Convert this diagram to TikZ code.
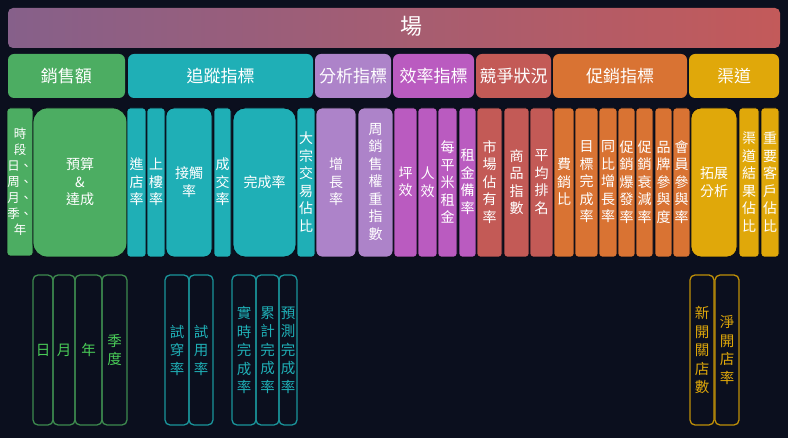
\documentclass[tikz,border=0pt]{standalone}
\usepackage{fontspec}
\newfontfamily\cjk{Noto Sans CJK TC}
\definecolor{bgnavy}{HTML}{0B0F1E}
\definecolor{salesgreen}{HTML}{4CAD62}
\definecolor{trackteal}{HTML}{1FAFB6}
\definecolor{analyslilac}{HTML}{AD83C9}
\definecolor{efficmagenta}{HTML}{BA5BC0}
\definecolor{competred}{HTML}{C35A56}
\definecolor{promoorange}{HTML}{D97333}
\definecolor{chanyellow}{HTML}{E0A80A}
\definecolor{fieldleft}{HTML}{86608A}
\definecolor{fieldright}{HTML}{C35A5A}
\tikzset{
  cattext/.style={text=white,font=\cjk\fontsize{17}{19}\selectfont,inner sep=0pt},
  kpitext/.style={text=white,font=\cjk\fontsize{14}{17.5}\selectfont,align=center,inner sep=0pt},
  subtext/.style={font=\cjk\fontsize{14.5}{18.5}\selectfont,align=center,inner sep=0pt},
  subsales/.style={draw=salesgreen!80!black,text=salesgreen!70!green!90!white},
  subtrack/.style={draw=trackteal!85!black,text=trackteal},
  subchan/.style={draw=chanyellow!85!black,text=chanyellow},
}
\begin{document}
\begin{tikzpicture}[x=1pt,y=-1pt]
\fill[bgnavy] (0,0) rectangle (788,438);
% field bar
\shade[left color=fieldleft,right color=fieldright,rounded corners=5pt] (8,8) rectangle (780,48);
\node[text=white,font=\cjk\fontsize{22}{24}\selectfont,inner sep=0pt] (field) at (411,26) {場};
% categories
\foreach \xa/\xb/\col/\txt/\nm in {8/125/salesgreen/銷售額/sales,
    128/313/trackteal/追蹤指標/track,315/391/analyslilac/分析指標/analys,
    393/474/efficmagenta/效率指標/effic,476/551/competred/競爭狀況/compet,
    553/687/promoorange/促銷指標/promo,689/779/chanyellow/渠道/chan}
{
  \fill[\col,rounded corners=6pt] (\xa,54) rectangle (\xb,98);
  \node[cattext] (\nm) at ({(\xa+\xb)/2},76) {\txt};
}
% metrics
\filldraw[fill=salesgreen,draw=bgnavy!70!black,line width=0.8pt,rounded corners=3pt] (7,108) rectangle (33,256);
\node[kpitext,font=\cjk\fontsize{12.5}{16}\selectfont] (period) at (20,182)
  {時\\段\\日、\\周、\\月、\\季、\\年};
\foreach \xa/\xb/\col/\r/\txt [count=\i] in {33/127/salesgreen/14pt/{預算\\\&\\達成},
    127/146/trackteal/3pt/{進\\店\\率},147/165/trackteal/3pt/{上\\樓\\率},
    166/212/trackteal/8pt/{接觸\\率},214/231/trackteal/3pt/{成\\交\\率},
    233/296/trackteal/12pt/{完成率},297/315/trackteal/3pt/{大\\宗\\交\\易\\佔\\比},
    316/356/analyslilac/6pt/{增\\長\\率},358/393/analyslilac/6pt/{周\\銷\\售\\權\\重\\指\\數},
    394/417/efficmagenta/3pt/{坪\\效},418/437/efficmagenta/3pt/{人\\效},
    438/457/efficmagenta/3pt/{每\\平\\米\\租\\金},459/476/efficmagenta/3pt/{租\\金\\備\\率},
    477/502/competred/3pt/{市\\場\\佔\\有\\率},504/529/competred/3pt/{商\\品\\指\\數},
    530/553/competred/3pt/{平\\均\\排\\名},
    554/574/promoorange/3pt/{費\\銷\\比},575/598/promoorange/3pt/{目\\標\\完\\成\\率},
    599/617/promoorange/3pt/{同\\比\\增\\長\\率},618/635/promoorange/3pt/{促\\銷\\爆\\發\\率},
    636/653/promoorange/3pt/{促\\銷\\衰\\減\\率},655/672/promoorange/3pt/{品\\牌\\參\\與\\度},
    673/690/promoorange/3pt/{會\\員\\參\\與\\率},
    691/737/chanyellow/10pt/{拓展\\分析},739/759/chanyellow/3pt/{渠\\道\\結\\果\\佔\\比},
    761/779/chanyellow/3pt/{重\\要\\客\\戶\\佔\\比}}
{
  \filldraw[fill=\col,draw=bgnavy!70!black,line width=0.8pt,rounded corners=\r] (\xa,108) rectangle (\xb,257);
  \node[kpitext] (kpi\i) at ({(\xa+\xb)/2},182) {\txt};
}
% sub metrics
\foreach \xa/\xb/\sty/\txt [count=\i] in {33/53/subsales/日,53/75/subsales/月,
    75/102/subsales/年,102/127/subsales/{季\\度},
    165/189/subtrack/{試\\穿\\率},189/213/subtrack/{試\\用\\率},
    232/256/subtrack/{實\\時\\完\\成\\率},256/279/subtrack/{累\\計\\完\\成\\率},
    279/297/subtrack/{預\\測\\完\\成\\率},
    690/714/subchan/{新\\開\\關\\店\\數},715/739/subchan/{淨\\開\\店\\率}}
{
  \draw[\sty,line width=1.3pt,rounded corners=5pt] (\xa,275) rectangle (\xb,425);
  \node[subtext,\sty,draw=none] (sub\i) at ({(\xa+\xb)/2},350) {\txt};
}
\end{tikzpicture}
\end{document}
